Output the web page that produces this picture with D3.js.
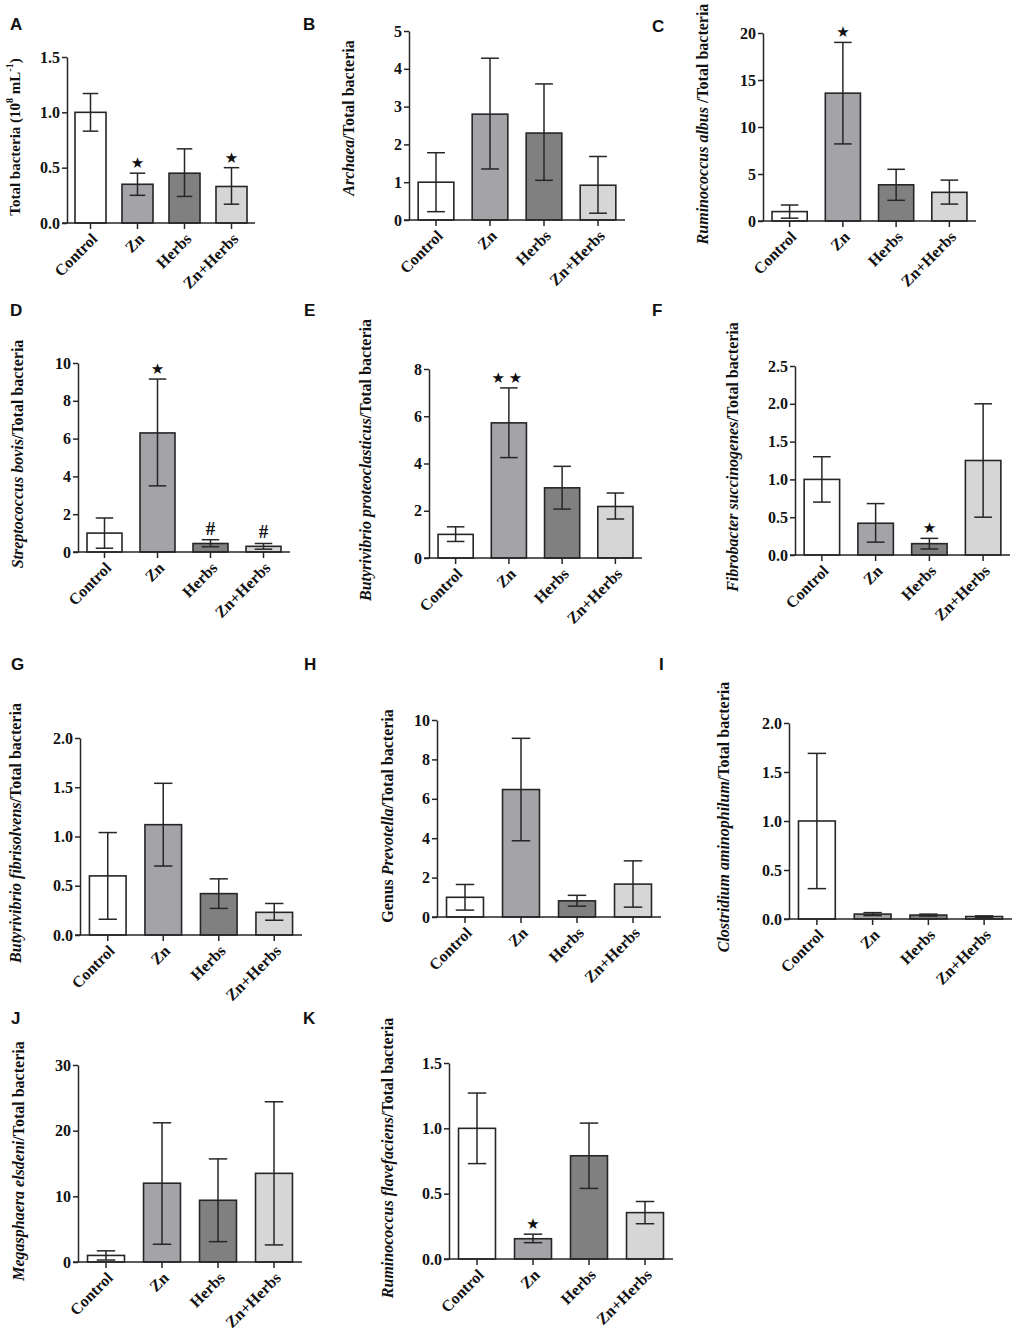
<!DOCTYPE html>
<html><head><meta charset="utf-8">
<script src="https://cdn.jsdelivr.net/npm/d3@7"></script>
<style>
body{margin:0;background:#fff;}
svg{display:block;}
</style></head>
<body>
<svg id="chart" width="1015" height="1339"></svg>
<script>
// ---------- DATA ----------
const categories = ["Control", "Zn", "Herbs", "Zn+Herbs"];

const meanA = [1.0, 0.35, 0.45, 0.33];   const loA = [0.83, 0.25, 0.24, 0.17];  const hiA = [1.17, 0.45, 0.67, 0.50];
const meanB = [1.0, 2.8, 2.3, 0.92];     const loB = [0.22, 1.35, 1.05, 0.18];  const hiB = [1.78, 4.28, 3.6, 1.68];
const meanC = [1.0, 13.6, 3.85, 3.05];   const loC = [0.3, 8.2, 2.2, 1.8];      const hiC = [1.7, 19.0, 5.5, 4.35];
const meanD = [1.0, 6.3, 0.45, 0.3];     const loD = [0.2, 3.5, 0.28, 0.15];    const hiD = [1.8, 9.15, 0.65, 0.45];
const meanE = [1.0, 5.72, 2.97, 2.18];   const loE = [0.7, 4.25, 2.07, 1.65];   const hiE = [1.32, 7.2, 3.88, 2.75];
const meanF = [1.0, 0.42, 0.15, 1.25];   const loF = [0.7, 0.17, 0.08, 0.5];    const hiF = [1.3, 0.68, 0.22, 2.0];
const meanG = [0.6, 1.12, 0.42, 0.23];   const loG = [0.16, 0.7, 0.27, 0.15];   const hiG = [1.04, 1.54, 0.57, 0.32];
const meanH = [1.0, 6.47, 0.82, 1.67];   const loH = [0.35, 3.87, 0.55, 0.5];   const hiH = [1.65, 9.07, 1.1, 2.85];
const meanI = [1.0, 0.05, 0.04, 0.025];  const loI = [0.31, 0.035, 0.03, 0.018]; const hiI = [1.69, 0.065, 0.05, 0.032];
const meanJ = [1.0, 12.0, 9.4, 13.5];    const loJ = [0.3, 2.7, 3.1, 2.6];      const hiJ = [1.7, 21.2, 15.7, 24.4];
const meanK = [1.0, 0.155, 0.79, 0.355]; const loK = [0.73, 0.125, 0.54, 0.27]; const hiK = [1.27, 0.19, 1.04, 0.44];

// significance marks per category
const marksA = ["", "★", "", "★"];
const marksB = ["", "", "", ""];
const marksC = ["", "★", "", ""];
const marksD = ["", "★", "#", "#"];
const marksE = ["", "★★", "", ""];
const marksF = ["", "", "★", ""];
const marksG = ["", "", "", ""];
const marksH = ["", "", "", ""];
const marksI = ["", "", "", ""];
const marksJ = ["", "", "", ""];
const marksK = ["", "★", "", ""];

// y-axis ticks
const ticksA = [0, 0.5, 1.0, 1.5];
const ticksB = [0, 1, 2, 3, 4, 5];
const ticksC = [0, 5, 10, 15, 20];
const ticksD = [0, 2, 4, 6, 8, 10];
const ticksE = [0, 2, 4, 6, 8];
const ticksF = [0, 0.5, 1.0, 1.5, 2.0, 2.5];
const ticksG = [0, 0.5, 1.0, 1.5, 2.0];
const ticksH = [0, 2, 4, 6, 8, 10];
const ticksI = [0, 0.5, 1.0, 1.5, 2.0];
const ticksJ = [0, 10, 20, 30];
const ticksK = [0, 0.5, 1.0, 1.5];

// axis titles: [text, style] pieces (0 bold, 1 italic, 2 superscript)
const titleA = [["Total bacteria (10", 0], ["8", 2], [" mL", 0], ["-1", 2], [")", 0]];
const titleB = [["Archaea", 1], ["/Total bacteria", 0]];
const titleC = [["Ruminococcus albus ", 1], ["/Total bacteria", 0]];
const titleD = [["Streptococcus bovis", 1], ["/Total bacteria", 0]];
const titleE = [["Butyrivibrio proteoclasticus", 1], ["/Total bacteria", 0]];
const titleF = [["Fibrobacter succinogenes", 1], ["/Total bacteria", 0]];
const titleG = [["Butyrivibrio fibrisolvens", 1], ["/Total bacteria", 0]];
const titleH = [["Genus ", 0], ["Prevotella", 1], ["/Total bacteria", 0]];
const titleI = [["Clostridium aminophilum", 1], ["/Total bacteria", 0]];
const titleJ = [["Megasphaera elsdeni", 1], ["/Total bacteria", 0]];
const titleK = [["Ruminococcus flavefaciens", 1], ["/Total bacteria", 0]];

// ---------- LAYOUT / STYLE ----------
const fills = ["#ffffff", "#a3a3a8", "#808080", "#d6d6d6"];
const ink = "#262626";

const panels = [
  {id:"A", mean:meanA, lo:loA, hi:hiA, marks:marksA, ticks:ticksA, fmt:".1f", title:titleA, fs:15,
   x0:67, x1:255, yT:57, y0:223, lx:10, ly:30, tx:15, ty:137},
  {id:"B", mean:meanB, lo:loB, hi:hiB, marks:marksB, ticks:ticksB, fmt:"d", title:titleB, fs:16,
   x0:409, x1:625, yT:31, y0:220, lx:303, ly:30, tx:348, ty:118},
  {id:"C", mean:meanC, lo:loC, hi:hiC, marks:marksC, ticks:ticksC, fmt:"d", title:titleC, fs:16,
   x0:763, x1:976, yT:33, y0:221, lx:652, ly:32, tx:702, ty:124},
  {id:"D", mean:meanD, lo:loD, hi:hiD, marks:marksD, ticks:ticksD, fmt:"d", title:titleD, fs:16,
   x0:78, x1:290, yT:363, y0:552, lx:10, ly:316, tx:17, ty:454},
  {id:"E", mean:meanE, lo:loE, hi:hiE, marks:marksE, ticks:ticksE, fmt:"d", title:titleE, fs:16,
   x0:429, x1:642, yT:369, y0:558, lx:304, ly:316, tx:365, ty:460},
  {id:"F", mean:meanF, lo:loF, hi:hiF, marks:marksF, ticks:ticksF, fmt:".1f", title:titleF, fs:16,
   x0:795, x1:1010, yT:366, y0:555, lx:652, ly:316, tx:732, ty:457},
  {id:"G", mean:meanG, lo:loG, hi:hiG, marks:marksG, ticks:ticksG, fmt:".1f", title:titleG, fs:16,
   x0:80, x1:302, yT:738, y0:935, lx:11, ly:670, tx:15, ty:833},
  {id:"H", mean:meanH, lo:loH, hi:hiH, marks:marksH, ticks:ticksH, fmt:"d", title:titleH, fs:16,
   x0:437, x1:661, yT:720, y0:917, lx:304, ly:670, tx:387, ty:816},
  {id:"I", mean:meanI, lo:loI, hi:hiI, marks:marksI, ticks:ticksI, fmt:".1f", title:titleI, fs:16,
   x0:789, x1:1012, yT:723, y0:919, lx:659, ly:670, tx:723, ty:817},
  {id:"J", mean:meanJ, lo:loJ, hi:hiJ, marks:marksJ, ticks:ticksJ, fmt:"d", title:titleJ, fs:16,
   x0:78, x1:302, yT:1065, y0:1262, lx:11, ly:1024, tx:18, ty:1161},
  {id:"K", mean:meanK, lo:loK, hi:hiK, marks:marksK, ticks:ticksK, fmt:".1f", title:titleK, fs:16,
   x0:449, x1:673, yT:1063, y0:1259, lx:303, ly:1024, tx:387, ty:1158}
];

const svg = d3.select("#chart");
const serif = "'Liberation Serif','Times New Roman',serif";

panels.forEach(p => {
  const g = svg.append("g").attr("class", "panel-" + p.id);
  const x = d3.scaleBand().domain(categories).range([p.x0, p.x1]).paddingInner(0.34).paddingOuter(0.17);
  const y = d3.scaleLinear().domain([0, p.ticks[p.ticks.length - 1]]).range([p.y0, p.yT]);
  const bw = x.bandwidth();

  // panel letter
  g.append("text").attr("x", p.lx).attr("y", p.ly).text(p.id)
    .attr("font-family", "'Liberation Sans',Arial,sans-serif").attr("font-weight", "bold")
    .attr("font-size", 17).attr("fill", "#111");

  // bars
  const data = categories.map((c, i) => ({c, i, m:p.mean[i], lo:p.lo[i], hi:p.hi[i], mk:p.marks[i]}));
  g.selectAll("rect.bar").data(data).join("rect").attr("class", "bar")
    .attr("x", d => x(d.c)).attr("width", bw)
    .attr("y", d => y(d.m)).attr("height", d => y(0) - y(d.m))
    .attr("fill", d => fills[d.i]).attr("stroke", ink).attr("stroke-width", 1.6);

  // error bars
  const capW = bw * 0.5;
  const eg = g.selectAll("g.err").data(data).join("g").attr("class", "err")
    .attr("stroke", ink).attr("stroke-width", 1.5);
  eg.append("line").attr("x1", d => x(d.c) + bw / 2).attr("x2", d => x(d.c) + bw / 2)
    .attr("y1", d => y(d.lo)).attr("y2", d => y(d.hi));
  eg.append("line").attr("x1", d => x(d.c) + bw / 2 - capW / 2).attr("x2", d => x(d.c) + bw / 2 + capW / 2)
    .attr("y1", d => y(d.hi)).attr("y2", d => y(d.hi));
  eg.append("line").attr("x1", d => x(d.c) + bw / 2 - capW / 2).attr("x2", d => x(d.c) + bw / 2 + capW / 2)
    .attr("y1", d => y(d.lo)).attr("y2", d => y(d.lo));

  // significance marks
  g.selectAll("text.mark").data(data.filter(d => d.mk)).join("text").attr("class", "mark")
    .attr("x", d => x(d.c) + bw / 2).attr("y", d => y(d.hi) - 5)
    .attr("text-anchor", "middle")
    .attr("font-family", d => d.mk === "#" ? serif : "'DejaVu Sans',sans-serif")
    .attr("font-weight", d => d.mk === "#" ? "bold" : "normal")
    .attr("font-size", d => d.mk === "#" ? 19 : 15)
    .attr("letter-spacing", d => d.mk.length > 1 ? 4 : 0)
    .attr("fill", "#111").text(d => d.mk);

  // y axis
  const yAxis = d3.axisLeft(y).tickValues(p.ticks).tickSize(5).tickSizeOuter(0)
    .tickFormat(d3.format(p.fmt));
  const ya = g.append("g").attr("transform", `translate(${p.x0},0)`).call(yAxis);
  ya.select(".domain").attr("stroke", ink).attr("stroke-width", 1.5);
  ya.selectAll(".tick line").attr("stroke", ink).attr("stroke-width", 1.5);
  ya.selectAll(".tick text").attr("font-family", serif).attr("font-weight", "bold")
    .attr("font-size", 16).attr("fill", "#111").attr("x", -7);

  // x axis
  const xAxis = d3.axisBottom(x).tickSize(6).tickSizeOuter(0);
  const xa = g.append("g").attr("transform", `translate(0,${p.y0})`).call(xAxis);
  xa.select(".domain").attr("stroke", ink).attr("stroke-width", 1.5)
    .attr("d", `M${p.x0 - 5},0H${p.x1}`);
  xa.selectAll(".tick line").attr("stroke", ink).attr("stroke-width", 1.5);
  xa.selectAll(".tick text").attr("font-family", serif).attr("font-weight", "bold")
    .attr("font-size", 16).attr("fill", "#111")
    .attr("text-anchor", "end").attr("dy", null).attr("y", null)
    .attr("transform", "translate(4,13) rotate(-45)")
    .attr("dominant-baseline", "central");

  // y title
  const t = g.append("text").attr("transform", `translate(${p.tx},${p.ty}) rotate(-90)`)
    .attr("text-anchor", "middle").attr("dominant-baseline", "central")
    .attr("font-family", serif).attr("font-size", p.fs).attr("font-weight", "bold").attr("fill", "#111");
  p.title.forEach(([s, st]) => {
    const ts = t.append("tspan").text(s);
    if (st === 1) ts.attr("font-style", "italic");
    if (st === 2) ts.attr("baseline-shift", "super").attr("font-size", 10);
  });
});
</script>
</body></html>
